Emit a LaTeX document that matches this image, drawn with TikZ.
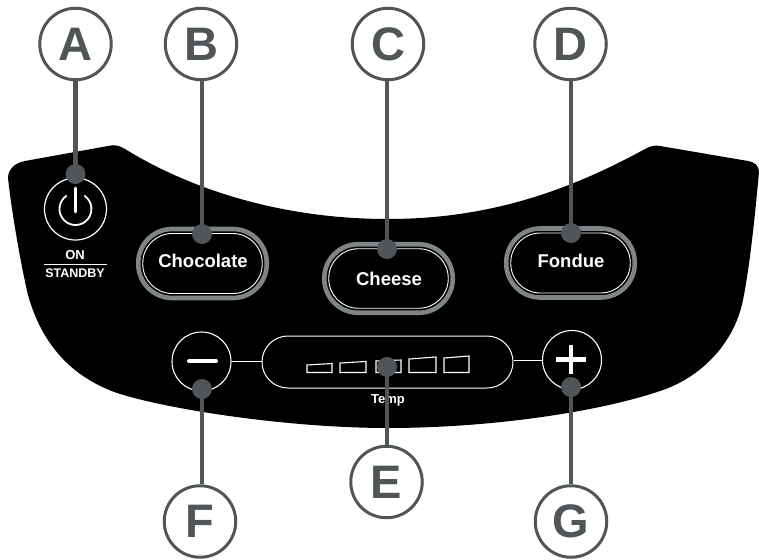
\documentclass[tikz,border=0pt]{standalone}
\usepackage{fontspec}
\setmainfont{Liberation Sans}
\definecolor{lead}{HTML}{505558}
\definecolor{btngray}{HTML}{7F8486}
\tikzset{
 x=1pt,y=-1pt,
 callout/.style={circle,draw=lead,line width=3pt,fill=white,minimum size=71.5pt,inner sep=0pt,font=\fontsize{47}{47}\selectfont\bfseries,text=lead},
 leadline/.style={draw=lead,line width=4.6pt},
 dot/.style={circle,fill=lead,minimum size=20pt,inner sep=0pt},
 btnouter/.style={draw=btngray,line width=4.6pt,fill=black,inner sep=0pt},
 wline/.style={draw=white,line width=1pt},
 label/.style={text=white,font=\fontsize{18.5}{19}\selectfont\bfseries},
 seg/.style={draw=white,line width=1.1pt},
}
\newcommand{\pillbutton}[6]{%
 \node[btnouter,minimum width=#4pt,minimum height=#5pt,rounded corners=#6pt] (#1) at (#2,#3) {};
 \node[draw=white,line width=.9pt,minimum width=#4pt-9pt,minimum height=#5pt-9pt,rounded corners=#6pt-4.5pt,inner sep=0pt] (#1in) at (#2,#3) {};
}
\begin{document}
\begin{tikzpicture}
\useasboundingbox (0,0) rectangle (759,559);
% panel
\fill[black] (8,178) .. controls (8,170) and (14,163) .. (25,161)
 -- (108,146) .. controls (115,144) and (120,146) .. (125,149)
 .. controls (180,183) and (270,219) .. (388,219)
 .. controls (490,219) and (570,190) .. (645,149)
 .. controls (650,146) and (655,145) .. (660,146)
 -- (748,161) .. controls (755,162) and (759,166) .. (759,172)
 .. controls (755,215) and (750,265) .. (743,300)
 .. controls (735,340) and (705,375) .. (663,390)
 .. controls (600,412) and (490,428) .. (388,428)
 .. controls (290,428) and (170,410) .. (117,393)
 .. controls (72,377) and (42,345) .. (28,295)
 .. controls (22,270) and (12,215) .. (8,178) -- cycle;
% power
\node[circle,draw=white,line width=1.2pt,minimum size=62pt,inner sep=0pt] (power) at (75.5,209) {};
\draw[white,line width=1.8pt,line cap=round] (66.3,195.9) arc[start angle=125,end angle=415,radius=16pt];
\draw[white,line width=2.6pt,line cap=round] (75.5,188) -- (75.5,212);
\node[text=white,font=\fontsize{13}{13}\selectfont\bfseries] (on) at (75,255) {ON};
\node[text=white,font=\fontsize{12.5}{13}\selectfont\bfseries] (standby) at (75,273.5) {STANDBY};
\draw[white,line width=1pt] (44,264) -- (107,264);
% buttons
\pillbutton{choc}{202.5}{263.5}{128.5}{69}{34}
\pillbutton{chee}{388.5}{278.5}{128.5}{68.5}{34}
\pillbutton{fond}{570.5}{263}{128.5}{69}{34}
\node[label] (choclabel) at (203,261) {Chocolate};
\node[label] (cheelabel) at (389,279) {Cheese};
\node[label] (fondlabel) at (571,261) {Fondue};
% temp
\node[draw=white,line width=1pt,minimum width=251pt,minimum height=52pt,rounded corners=26pt,inner sep=0pt] (temp) at (387.5,362) {};
\node[circle,draw=white,line width=1.1pt,minimum size=59pt,inner sep=0pt] (minus) at (201.5,361.5) {};
\node[circle,draw=white,line width=1.1pt,minimum size=59pt,inner sep=0pt] (plus) at (572,360) {};
\draw[wline] (minus.east) -- (minus.east -| temp.west);
\draw[wline] (plus.west -| temp.east) -- (plus.west);
\draw[white,line width=4pt,line cap=round] (189,361) -- (216,361);
\draw[white,line width=4.4pt] (556,359.5) -- (586,359.5) (571,345) -- (571,374);
\draw[seg] (307,365) -- (332,363.5) -- (332,372.5) -- (307,372.5) -- cycle;
\draw[seg] (340,363) -- (366,361.5) -- (366,372.5) -- (340,372.5) -- cycle;
\draw[seg] (376,361) -- (401,360) -- (401,372.5) -- (376,372.5) -- cycle;
\draw[seg] (409,359) -- (436,357) -- (436,372.5) -- (409,372.5) -- cycle;
\draw[seg] (444,358) -- (469,356) -- (469,372.5) -- (444,372.5) -- cycle;
\node[text=white,font=\fontsize{13}{13}\selectfont\bfseries] (templabel) at (388,400) {Temp};
% callouts
\node[callout] (A) at (75.5,44) {A};
\node[callout] (B) at (201,44) {B};
\node[callout] (C) at (388,44) {C};
\node[callout] (D) at (570.5,44) {D};
\node[callout] (E) at (386.5,482) {E};
\node[callout] (F) at (200,521.5) {F};
\node[callout] (G) at (571,521.5) {G};
\node[dot] (da) at (75.5,174) {};
\node[dot] (db) at (202,234) {};
\node[dot] (dc) at (387,249) {};
\node[dot] (dd) at (571,233) {};
\node[dot] (de) at (387,367) {};
\node[dot] (df) at (202,389) {};
\node[dot] (dg) at (571,387) {};
\foreach \c/\d/\a in {A/da/south,B/db/south,C/dc/south,D/dd/south,E/de/north,F/df/north,G/dg/north}{
 \draw[leadline] (\d.center) -- (\d.center |- \c.\a);
}
\end{tikzpicture}
\end{document}
